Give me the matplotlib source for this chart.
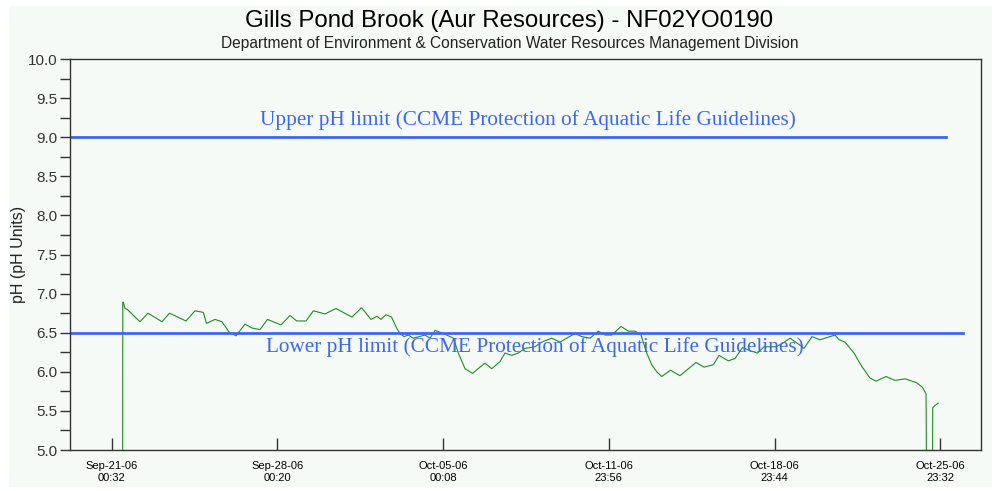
import matplotlib
matplotlib.use('Agg')
import matplotlib.pyplot as plt
import matplotlib.patches as mp
import numpy as np

# days since 2006-09-21 00:00 and pH readings
days = [0.486, 0.490, 0.51, 0.585, 0.67, 1.216, 1.554, 2.145, 2.461, 3.157, 3.537,
        3.887, 4.022, 4.381, 4.676, 4.972, 5.267, 5.647, 5.942, 6.28, 6.596, 7.166,
        7.545, 7.828, 8.22, 8.529, 9.022, 9.486, 9.908, 10.16, 10.563, 10.963,
        11.216, 11.385, 11.596, 11.828, 12.06, 12.19, 12.356, 12.537, 12.748,
        13.242, 13.453, 13.664, 14.014, 14.436, 14.647, 14.93, 15.246, 15.562,
        15.773, 16.056, 16.406, 16.617, 16.9, 17.179, 17.46, 17.88, 18.166,
        18.588, 18.938, 19.22, 19.571, 19.853, 20.204, 20.554, 20.837, 21.12,
        21.512, 21.82, 22.103, 22.356, 22.596, 22.807, 23.018, 23.229, 23.6,
        24.0, 24.676, 25.014, 25.406, 25.647, 26.039, 26.322, 26.639, 26.955,
        27.272, 27.546, 28.052, 28.305, 28.643, 29.064, 29.233, 29.57, 29.908,
        30.541, 30.71, 30.963, 31.343, 31.668, 32.018, 32.271, 32.693, 33.073,
        33.495, 33.989, 34.233, 34.381, 34.40, 34.655, 34.664, 34.76, 34.9]
ph = [4.8, 6.89, 6.89, 6.81, 6.80, 6.64, 6.75, 6.64, 6.75, 6.65, 6.78,
      6.76, 6.62, 6.67, 6.64, 6.51, 6.46, 6.61, 6.56, 6.54, 6.67, 6.60,
      6.72, 6.65, 6.65, 6.78, 6.74, 6.81, 6.74, 6.70, 6.82, 6.67,
      6.71, 6.67, 6.73, 6.70, 6.55, 6.49, 6.45, 6.47, 6.43,
      6.47, 6.43, 6.53, 6.49, 6.43, 6.24, 6.04, 5.98, 6.06,
      6.11, 6.04, 6.13, 6.24, 6.21, 6.24, 6.30, 6.32, 6.38,
      6.43, 6.38, 6.43, 6.49, 6.45, 6.43, 6.52, 6.47, 6.47,
      6.58, 6.52, 6.52, 6.47, 6.24, 6.09, 6.00, 5.94, 6.02,
      5.95, 6.12, 6.06, 6.09, 6.21, 6.14, 6.17, 6.31, 6.27,
      6.24, 6.32, 6.32, 6.36, 6.43, 6.34, 6.30, 6.45, 6.41,
      6.47, 6.41, 6.38, 6.24, 6.07, 5.92, 5.88, 5.94, 5.89,
      5.91, 5.86, 5.80, 5.72, 4.8, 4.8, 5.54, 5.57, 5.60]

upper_limit = 9.0
lower_limit = 6.5
upper_text = 'Upper pH limit (CCME Protection of Aquatic Life Guidelines)'
lower_text = 'Lower pH limit (CCME Protection of Aquatic Life Guidelines)'

tick_days = [0.022 + k * 6.99167 for k in range(6)]
tick_labels = ['Sep-21-06\n00:32', 'Sep-28-06\n00:20', 'Oct-05-06\n00:08',
               'Oct-11-06\n23:56', 'Oct-18-06\n23:44', 'Oct-25-06\n23:32']

bg = '#f5faf7'
blue = '#3b68f2'
sans = 'Liberation Sans'
serif = 'Liberation Serif'

fig = plt.figure(figsize=(10, 4.91), dpi=100, facecolor='white')
fig.patches.append(mp.Rectangle((0.009, 0.008), 0.983, 0.98, transform=fig.transFigure,
                                facecolor=bg, edgecolor='none', zorder=-10))
ax = fig.add_axes([0.07, 0.0835, 0.911, 0.7963])
ax.set_facecolor(bg)

ax.plot(days, ph, color='#1f8c1f', lw=0.8, clip_on=True)
ax.plot([-1.956, 35.21], [upper_limit, upper_limit], color=blue, lw=2)
ax.plot([-1.956, 35.93], [lower_limit, lower_limit], color=blue, lw=2)
ax.text(17.57, 9.15, upper_text, color=blue, fontsize=15.3, family=serif,
        ha='center', va='baseline')
ax.text(17.88, 6.255, lower_text, color=blue, fontsize=15.3, family=serif,
        ha='center', va='baseline')

ax.set_xlim(-1.737, 36.70)
ax.set_ylim(5.0, 10.0)
ax.set_yticks(np.arange(5.0, 10.01, 0.5))
ax.set_yticks(np.arange(5.0, 10.01, 0.25), minor=True)
ax.set_yticklabels(['%.1f' % v for v in np.arange(5.0, 10.01, 0.5)], family=sans,
                   fontsize=11, color='#333333')
ax.tick_params(axis='y', which='both', direction='out', length=7, width=1, color='#333333', pad=2)
ax.set_xticks(tick_days)
ax.set_xticklabels(tick_labels, family=sans, fontsize=8)
ax.tick_params(axis='x', which='major', direction='in', length=9, width=1, color='#333333', pad=8)
for s in ax.spines.values():
    s.set_color('#333333')
    s.set_linewidth(1)

ax.set_ylabel('pH (pH Units)', family=sans, fontsize=11.5, labelpad=1, color='#222222')

fig.text(0.5095, 0.9456, 'Gills Pond Brook (Aur Resources) - NF02YO0190', family=sans,
         fontsize=17.3, ha='center', va='baseline')
fig.text(0.5095, 0.9016, 'Department of Environment & Conservation Water Resources Management Division',
         family=sans, fontsize=11.2, ha='center', va='baseline', color='#222222')

fig.savefig('out.png', dpi=100, facecolor=fig.get_facecolor())
